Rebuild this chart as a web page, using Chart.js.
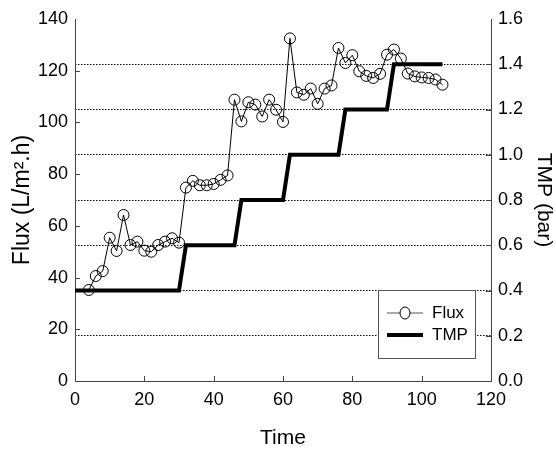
<!DOCTYPE html>
<html>
<head>
<meta charset="utf-8">
<script src="https://cdn.jsdelivr.net/npm/chart.js@4/dist/chart.umd.min.js"></script>
<style>
  body { margin: 0; background: #fff; }
</style>
</head>
<body>
<canvas id="myChart" width="556" height="452"></canvas>
<script>
// flux readings, one every 2 time units
const times = [4, 6, 8, 10, 12, 14, 16, 18, 20, 22, 24, 26, 28, 30,
  32, 34, 36, 38, 40, 42, 44, 46, 48, 50, 52, 54, 56, 58, 60,
  62, 64, 66, 68, 70, 72, 74, 76, 78, 80, 82, 84, 86, 88, 90,
  92, 94, 96, 98, 100, 102, 104, 106];
const flux = [35.2, 40.6, 42.5, 55.4, 50.3, 64.2, 52.6, 53.9, 50.4, 50.0, 52.6, 53.9, 55.2, 53.5,
  74.8, 77.4, 75.7, 75.7, 76.2, 77.8, 79.5, 108.8, 100.4, 107.8, 106.9, 102.3, 108.8, 104.9, 100.2,
  132.5, 111.6, 110.7, 113.1, 107.2, 113.1, 114.3, 128.8, 123.0, 126.0, 119.8, 118.0, 117.2, 118.8, 126.2,
  128.2, 124.7, 118.9, 117.8, 117.4, 117.2, 116.6, 114.6];

// transmembrane pressure steps
const tmpTimes = [0, 30, 32, 46, 48, 60, 62, 76, 78, 90, 92, 106];
const tmpBar = [0.4, 0.4, 0.6, 0.6, 0.8, 0.8, 1.0, 1.0, 1.2, 1.2, 1.4, 1.4];

const fluxTicks = [0, 20, 40, 60, 80, 100, 120, 140];
const tmpTicks = [0, 0.2, 0.4, 0.6, 0.8, 1.0, 1.2, 1.4, 1.6];
const timeTicks = [0, 20, 40, 60, 80, 100, 120];

const FONT = "'Liberation Sans', Arial, sans-serif";
const AXIS_COLOR = "#444";

// short tick marks pointing into the plot
const innerTicks = {
  id: "innerTicks",
  afterDraw(chart) {
    const ctx = chart.ctx;
    const a = chart.chartArea;
    const len = 5;
    ctx.save();
    ctx.setLineDash([]);
    ctx.strokeStyle = AXIS_COLOR;
    ctx.lineWidth = 1;
    ctx.beginPath();
    timeTicks.slice(1, -1).forEach(v => {
      const px = Math.round(chart.scales.x.getPixelForValue(v)) + 0.5;
      ctx.moveTo(px, a.bottom);
      ctx.lineTo(px, a.bottom - len);
    });
    fluxTicks.slice(1, -1).forEach(v => {
      const py = Math.round(chart.scales.y.getPixelForValue(v)) + 0.5;
      ctx.moveTo(a.left, py);
      ctx.lineTo(a.left + len, py);
    });
    tmpTicks.slice(1, -1).forEach(v => {
      const py = Math.round(chart.scales.y2.getPixelForValue(v)) + 0.5;
      ctx.moveTo(a.right, py);
      ctx.lineTo(a.right - len, py);
    });
    ctx.stroke();
    // right axis line, kept solid
    const rx = Math.round(a.right) + 0.5;
    ctx.beginPath();
    ctx.moveTo(rx, a.top);
    ctx.lineTo(rx, a.bottom);
    ctx.stroke();
    ctx.restore();
  }
};

// boxed legend in the lower right corner
const boxLegend = {
  id: "boxLegend",
  afterDraw(chart) {
    const ctx = chart.ctx;
    const a = chart.chartArea;
    const w = 97, h = 68;
    const x0 = a.right - 16 - w;
    const y0 = a.bottom - 23 - h;
    ctx.save();
    ctx.setLineDash([]);
    ctx.fillStyle = "#fff";
    ctx.fillRect(x0, y0, w, h);
    ctx.strokeStyle = "#555";
    ctx.lineWidth = 1;
    ctx.strokeRect(Math.round(x0) + 0.5, Math.round(y0) + 0.5, w, h);

    ctx.font = "17px " + FONT;
    ctx.textBaseline = "middle";
    chart.data.datasets.forEach((ds, i) => {
      const y = y0 + 23 + i * 22;
      const lx = x0 + 9;
      ctx.strokeStyle = i === 0 ? "#555" : ds.borderColor;
      ctx.lineWidth = ds.borderWidth;
      ctx.beginPath();
      ctx.moveTo(lx, y);
      ctx.lineTo(lx + 36, y);
      ctx.stroke();
      if (ds.pointRadius > 0) {
        ctx.fillStyle = "#fff";
        ctx.strokeStyle = ds.pointBorderColor;
        ctx.lineWidth = 1;
        ctx.beginPath();
        ctx.ellipse(lx + 18, y, ds.pointRadius - 0.5, ds.pointRadius + 0.5, 0, 0, Math.PI * 2);
        ctx.fill();
        ctx.stroke();
      }
      ctx.fillStyle = "#000";
      ctx.fillText(ds.label, x0 + 54, y);
    });
    ctx.restore();
  }
};

function loadChart() {
  const ctx = document.getElementById("myChart").getContext("2d");
  new Chart(ctx, {
    type: "line",
    data: {
      datasets: [
        {
          label: "Flux",
          data: times.map((t, i) => ({ x: t, y: flux[i] })),
          yAxisID: "y",
          borderColor: "#000",
          borderWidth: 1,
          pointRadius: 5.5,
          pointBorderColor: "#000",
          pointBorderWidth: 1,
          pointBackgroundColor: "transparent",
          tension: 0,
          order: 2
        },
        {
          label: "TMP",
          data: tmpTimes.map((t, i) => ({ x: t, y: tmpBar[i] })),
          yAxisID: "y2",
          borderColor: "#000",
          borderWidth: 4,
          pointRadius: 0,
          tension: 0,
          order: 1
        }
      ]
    },
    options: {
      responsive: false,
      animation: false,
      layout: { padding: { top: 19, left: 0, right: 0, bottom: 0 } },
      plugins: {
        legend: { display: false },
        tooltip: { enabled: false }
      },
      scales: {
        x: {
          type: "linear",
          min: 0,
          max: 120,
          afterBuildTicks: s => { s.ticks = timeTicks.map(v => ({ value: v })); },
          afterFit: s => { s.height = 71; },
          grid: { display: false, drawTicks: false },
          border: { color: AXIS_COLOR, width: 1 },
          ticks: { color: "#000", font: { family: FONT, size: 18 }, padding: 8, maxRotation: 0 },
          title: { display: true, text: "Time", color: "#000", font: { family: FONT, size: 21 }, padding: { top: 1, bottom: 1 } }
        },
        y: {
          position: "left",
          min: 0,
          max: 140,
          afterBuildTicks: s => { s.ticks = fluxTicks.map(v => ({ value: v })); },
          afterFit: s => { s.width = 75; },
          grid: { display: false, drawTicks: false },
          border: { color: AXIS_COLOR, width: 1 },
          ticks: { color: "#000", font: { family: FONT, size: 18 }, padding: 7 },
          title: { display: true, text: "Flux (L/m\u00b2.h)", color: "#000", font: { family: FONT, size: 23 }, padding: { top: 9, bottom: 9 } }
        },
        y2: {
          position: "right",
          min: 0,
          max: 1.6,
          afterBuildTicks: s => { s.ticks = tmpTicks.map(v => ({ value: v })); },
          afterFit: s => { s.width = 65; },
          grid: {
            drawOnChartArea: true,
            drawTicks: false,
            color: c => (c.tick && c.tick.value > 0.01 && c.tick.value < 1.59) ? "#000" : "transparent",
            lineWidth: 1
          },
          // dotted grid lines across the plot
          border: { color: AXIS_COLOR, width: 1, dash: [1.5, 1.5] },
          ticks: { color: "#000", font: { family: FONT, size: 18 }, padding: 7, callback: v => Number(v).toFixed(1) },
          title: { display: true, text: "TMP (bar)", color: "#000", font: { family: FONT, size: 21 }, padding: { top: 0, bottom: 0 } }
        }
      }
    },
    plugins: [innerTicks, boxLegend]
  });
}

window.onload = function() {
  loadChart();
}
</script>
</body>
</html>
